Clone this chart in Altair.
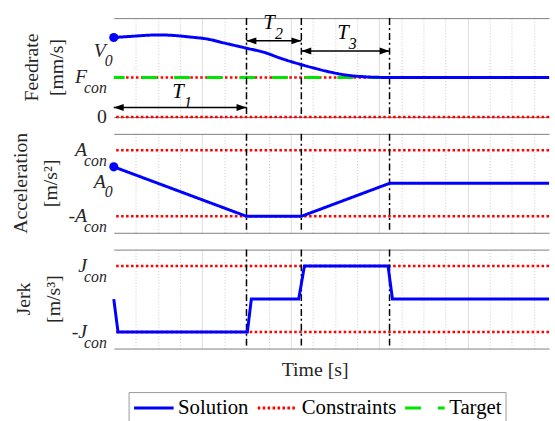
import altair as alt
import pandas as pd

# ---------------- values ----------------
T_END = 4.92                        # right end of the (cropped) time axis
EVENT_T = [1.5, 2.12, 3.117]        # ends of T1, T2, T3

FEED_T = [0, 0.17, 0.5, 0.69, 0.85, 1.06, 1.25, 1.5, 1.7, 1.88, 2.12, 2.26,
          2.44, 2.63, 2.82, 2.96, 3.117, 4.92]
FEED_V = [2.01, 2.035, 2.075, 2.06, 2.025, 1.97, 1.87, 1.74, 1.635, 1.49,
          1.325, 1.24, 1.14, 1.06, 1.02, 1.005, 1.0, 1.0]
ACC_T = [0, 1.5, 2.12, 3.117, 4.92]
ACC_V = [0.5, -1.0, -1.0, 0.0, 0.0]
JERK_T = [0, 0.048, 1.51, 1.555, 2.09, 2.155, 3.10, 3.15, 4.92]
JERK_V = [0, -1, -1, 0, 0, 1, 1, 0, 0]

V0 = 2.01
A0 = 0.5
F_CON = 1.0
FEED_LIMITS = [F_CON, 0.0]
ACC_LIMITS = [1.0, -1.0]
JERK_LIMITS = [1.0, -1.0]

FEED_TICK_MAIN = ["V", "F", "0"]
FEED_TICK_SUB = ["0", "con", ""]
FEED_TICK_AT = [1.67, 1.0, 0.0]
ACC_TICK_MAIN = ["A", "A", "-A"]
ACC_TICK_SUB = ["con", "0", "con"]
ACC_TICK_AT = [1.0, 0.03, -1.0]
JERK_TICK_MAIN = ["J", "-J"]
JERK_TICK_SUB = ["con", "con"]
JERK_TICK_AT = [1.0, -1.0]

SPAN_NAME = ["T", "T", "T"]
SPAN_SUB = ["1", "2", "3"]
SPAN_START = [0.0, 1.5, 2.12]
SPAN_END = [1.5, 2.12, 3.117]
SPAN_Y = [0.24, 1.925, 1.67]
SPAN_LABEL_T = [0.726, 1.754, 2.59]
SPAN_LABEL_Y = [0.64, 2.37, 2.12]

SERIES = ["Solution", "Constraints", "Target"]
SERIES_COLORS = ["#0000ff", "#ff0000", "#00e400"]
SERIES_DASH = [[1, 0], [2.6, 2.4], [16, 17]]

# ---------------- styling ----------------
FONT = "Liberation Serif"
TXT = "#262626"
BORDER = "#808080"
W, H = 440, 100

LEG = alt.Legend(
    title=None, orient="none", legendX=15, legendY=378, direction="horizontal",
    columns=3, symbolType="stroke", symbolSize=1600, symbolStrokeWidth=3,
    labelFont=FONT, labelFontSize=21, labelColor="#000000", labelOffset=3,
    columnPadding=7, padding=4, strokeColor="#9a9a9a", fillColor="white",
    labelLimit=300, cornerRadius=0, clipHeight=24,
)
color_enc = alt.Color("series:N", scale=alt.Scale(domain=SERIES, range=SERIES_COLORS), legend=LEG)
dash_enc = alt.StrokeDash("series:N", scale=alt.Scale(domain=SERIES, range=SERIES_DASH), legend=LEG)

xscale = alt.Scale(domain=[0, T_END], nice=False, zero=False)
MINOR = [k * 0.25 for k in range(1, 20) if k % 4]


def bottom_axis(with_title):
    kw = dict(labels=False, ticks=False, domain=True, domainColor=BORDER,
              grid=True, gridColor="#dedede", values=[1, 2, 3, 4])
    if with_title:
        return alt.Axis(title="Time [s]", titleFont=FONT, titleFontSize=20,
                        titleFontWeight="normal", titleColor=TXT, titleX=203,
                        titleY=21, titleAlign="center", titleBaseline="middle", **kw)
    return alt.Axis(title=None, **kw)


top_axis = alt.Axis(orient="top", title=None, labels=False, ticks=False, domain=True,
                    domainColor=BORDER, grid=True, gridColor="#c8c8c8",
                    gridDash=[1, 2], values=MINOR)


def tick_label_layers(main, sub, at, yscale):
    df = pd.DataFrame({"main": main, "sub": sub, "at": at})
    y = alt.Y("at:Q", scale=yscale, axis=None)
    base = alt.Chart(df)
    common = dict(font=FONT, baseline="middle", color=TXT)
    layers = [
        base.transform_filter("length(datum.sub) > 1").mark_text(
            align="right", fontSize=20, fontStyle="italic", **common
        ).encode(x=alt.value(-27), y=y, text="main:N"),
        base.transform_filter("length(datum.sub) > 1").mark_text(
            align="left", fontSize=16, fontStyle="italic", dy=11, **common
        ).encode(x=alt.value(-30), y=y, text="sub:N"),
        base.transform_filter("length(datum.sub) == 1").mark_text(
            align="right", fontSize=20, fontStyle="italic", **common
        ).encode(x=alt.value(-8), y=y, text="main:N"),
        base.transform_filter("length(datum.sub) == 1").mark_text(
            align="left", fontSize=16, fontStyle="italic", dy=10, **common
        ).encode(x=alt.value(-9), y=y, text="sub:N"),
        base.transform_filter("length(datum.sub) == 0").mark_text(
            align="right", fontSize=20, **common
        ).encode(x=alt.value(-7), y=y, text="main:N"),
    ]
    return layers


def panel(t, v, limits, ydomain, ygrid, ytitle, title_x, title_lh, ticks,
          interp="linear", xtitle=False, target=None, dot=None, spans=False):
    yscale = alt.Scale(domain=ydomain, nice=False, zero=False)
    yaxis = alt.Axis(title=None, labels=False, ticks=False, domain=True,
                     domainColor=BORDER, grid=True, gridDash=[1, 2],
                     gridColor="#bdbdbd", values=ygrid)
    sol = pd.DataFrame({"t": t, "v": v, "series": "Solution"})
    lim = pd.DataFrame({"v": limits, "series": "Constraints"})
    ev = pd.DataFrame({"t": EVENT_T})
    ttl = pd.DataFrame({"txt": [ytitle]})

    layers = [
        alt.Chart(lim).mark_rule(strokeWidth=2.5).encode(
            y=alt.Y("v:Q", scale=yscale, axis=None), color=color_enc, strokeDash=dash_enc)
    ]
    if target is not None:
        tg = pd.DataFrame({"v": [target], "series": "Target"})
        layers.append(alt.Chart(tg).mark_rule(strokeWidth=3).encode(
            y=alt.Y("v:Q", scale=yscale, axis=None), color=color_enc, strokeDash=dash_enc))
    layers.append(alt.Chart(ev).mark_rule(color="black", strokeWidth=1.5,
                                          strokeDash=[7, 3, 2, 3]).encode(
        x=alt.X("t:Q", scale=xscale, axis=top_axis)))
    layers.append(alt.Chart(sol).mark_line(strokeWidth=3, interpolate=interp).encode(
        x=alt.X("t:Q", scale=xscale, axis=bottom_axis(xtitle)),
        y=alt.Y("v:Q", scale=yscale, axis=yaxis), color=color_enc, strokeDash=dash_enc))
    if dot is not None:
        dd = pd.DataFrame({"t": [0.0], "v": [dot]})
        layers.append(alt.Chart(dd).mark_circle(size=85, color="#0000ff", opacity=1).encode(
            x=alt.X("t:Q", scale=xscale, axis=None), y=alt.Y("v:Q", scale=yscale, axis=None)))
    if spans:
        sp = pd.DataFrame({"s": SPAN_START, "e": SPAN_END, "y": SPAN_Y,
                           "lt": SPAN_LABEL_T, "ly": SPAN_LABEL_Y,
                           "name": SPAN_NAME, "sub": SPAN_SUB})
        base = alt.Chart(sp)
        ys = alt.Y("y:Q", scale=yscale, axis=None)
        layers += [
            base.mark_rule(color="black", strokeWidth=1.5).encode(
                x=alt.X("s:Q", scale=xscale, axis=None), x2="e:Q", y=ys),
            base.mark_point(shape="M0,0L2,-0.7L2,0.7Z", filled=True, size=100,
                            color="black", opacity=1, strokeWidth=0).encode(
                x=alt.X("s:Q", scale=xscale, axis=None), y=ys),
            base.mark_point(shape="M0,0L-2,-0.7L-2,0.7Z", filled=True, size=100,
                            color="black", opacity=1, strokeWidth=0).encode(
                x=alt.X("e:Q", scale=xscale, axis=None), y=ys),
            base.mark_text(font=FONT, fontSize=21, fontStyle="italic", color="black",
                           align="center", baseline="middle").encode(
                x=alt.X("lt:Q", scale=xscale, axis=None),
                y=alt.Y("ly:Q", scale=yscale, axis=None), text="name:N"),
            base.mark_text(font=FONT, fontSize=16, fontStyle="italic", color="black",
                           align="center", baseline="middle", dx=10, dy=11).encode(
                x=alt.X("lt:Q", scale=xscale, axis=None),
                y=alt.Y("ly:Q", scale=yscale, axis=None), text="sub:N"),
        ]
    layers += tick_label_layers(*ticks, yscale)
    # two-line rotated axis title (first line anchored at title_x)
    layers.append(alt.Chart(ttl).mark_text(
        font=FONT, fontSize=20, color=TXT, angle=270, align="center",
        baseline="middle", lineBreak="\n", lineHeight=title_lh,
    ).encode(x=alt.value(title_x), y=alt.value(H / 2), text="txt:N"))
    return alt.layer(*layers).resolve_axis(x="independent").properties(width=W, height=H)


top = panel(FEED_T, FEED_V, FEED_LIMITS, [0, 2.5], [0.1, 0.2, 0.3, 0.4],
            "Feedrate\n[mm/s]", -83, 26,
            (FEED_TICK_MAIN, FEED_TICK_SUB, FEED_TICK_AT), interp="monotone",
            target=F_CON, dot=V0, spans=True)
mid = panel(ACC_T, ACC_V, ACC_LIMITS, [-1.5, 1.5], [-1, -0.5, 0, 0.5, 1],
            "Acceleration\n[m/s²]", -94, 31,
            (ACC_TICK_MAIN, ACC_TICK_SUB, ACC_TICK_AT), dot=A0)
bot = panel(JERK_T, JERK_V, JERK_LIMITS, [-1.5, 1.5], [-1, -0.5, 0, 0.5, 1],
            "Jerk\n[m/s³]", -91, 31,
            (JERK_TICK_MAIN, JERK_TICK_SUB, JERK_TICK_AT), xtitle=True)

chart = alt.vconcat(top, mid, bot, spacing=17, bounds="flush").properties(
    padding={"left": 11, "top": 10, "right": 0, "bottom": 0},
    background="white",
).configure(font=FONT).configure_view(stroke=None)

chart.save("out.html", embed_options={"renderer": "svg", "actions": False})
